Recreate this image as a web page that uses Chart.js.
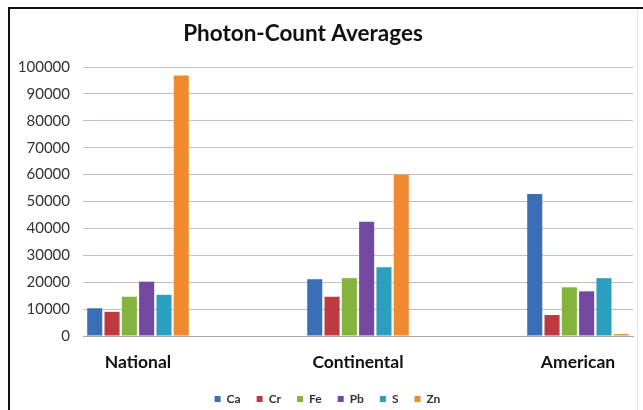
<!DOCTYPE html>
<html>
<head>
<meta charset="utf-8">
<script src="https://cdn.jsdelivr.net/npm/chart.js@4.4.0/dist/chart.umd.min.js"></script>
<style>
  html, body { margin: 0; padding: 0; background: #fff; }
  #wrap { width: 643px; height: 410px; }
</style>
</head>
<body>
<div id="wrap"><canvas id="photonChart" width="643" height="410"></canvas></div>
<script>
// categories and series
const categories = ['National', 'Continental', 'American'];
const elements = ['Ca', 'Cr', 'Fe', 'Pb', 'S', 'Zn'];
const caValues = [10300, 21100, 52800];
const crValues = [9000, 14600, 7800];
const feValues = [14600, 21500, 18100];
const pbValues = [20200, 42500, 16600];
const sValues = [15300, 25600, 21500];
const znValues = [96800, 59900, 700];
const yTicks = [0, 10000, 20000, 30000, 40000, 50000, 60000, 70000, 80000, 90000, 100000];

const seriesValues = [caValues, crValues, feValues, pbValues, sValues, znValues];
const colors = ['#3a6fb8', '#bf3a3f', '#84b33e', '#7248a0', '#2b9fc0', '#ef8a2e'];

const FONT = 'Lato, "Liberation Sans", sans-serif';

// the black frame round the picture
const framePlugin = {
  id: 'frame',
  afterLayout(chart) {
    // title sits a little left of centre, legend a little right and higher, as in the original
    chart.titleBlock.left -= 27;
    chart.legend.left += 11;
    chart.legend.right += 11;
    chart.legend.top -= 12;
  },
  afterDraw(chart) {
    const c = chart.ctx;
    c.save();
    c.strokeStyle = '#e2e2e2';
    c.lineWidth = 1;
    c.beginPath();
    c.moveTo(637.5, 10);
    c.lineTo(637.5, 410);
    c.stroke();
    c.strokeStyle = '#111';
    c.lineWidth = 2;
    c.beginPath();
    c.moveTo(9, 410);
    c.lineTo(9, 8);
    c.lineTo(643, 8);
    c.stroke();
    c.restore();
  }
};

const datasets = elements.map((name, i) => ({
  label: name,
  data: seriesValues[i].map((v, j) => ({ x: j, y: v })),
  backgroundColor: colors[i],
  borderWidth: 0,
  categoryPercentage: 0.472,
  barPercentage: 0.87
}));

new Chart(document.getElementById('photonChart'), {
  type: 'bar',
  data: { datasets: datasets },
  plugins: [framePlugin],
  options: {
    responsive: false,
    animation: false,
    layout: { padding: { left: 0, right: 10, top: 12, bottom: 0 } },
    plugins: {
      title: {
        display: true,
        text: 'Photon-Count Averages',
        color: '#111',
        font: { family: FONT, size: 22.5, weight: 'bold' },
        padding: { top: 8, bottom: 20 }
      },
      legend: {
        position: 'bottom',
        maxHeight: 21,
        labels: {
          boxWidth: 6,
          boxHeight: 6,
          padding: 16,
          color: '#333',
          font: { family: FONT, size: 12, weight: 'bold' }
        }
      },
      tooltip: { enabled: false }
    },
    scales: {
      x: {
        type: 'linear',
        offset: false,
        min: -0.25,
        max: 2.25,
        grid: { display: false, drawTicks: false },
        border: { display: true, color: '#a8a8a8', width: 1 },
        afterBuildTicks(scale) {
          scale.ticks = categories.map((c, i) => ({ value: i }));
        },
        ticks: {
          padding: 16,
          color: '#111',
          font: { family: FONT, size: 17.5, weight: 'bold' },
          callback: (v) => categories[v]
        }
      },
      y: {
        min: 0,
        max: 100000,
        afterFit(scale) { scale.width = 83; },
        afterBuildTicks(scale) {
          scale.ticks = yTicks.map(v => ({ value: v }));
        },
        grid: { color: '#c4bdb9', drawTicks: false },
        border: { display: false },
        ticks: {
          padding: 13,
          color: '#333',
          font: { family: FONT, size: 15 },
          callback: (v) => String(v)
        }
      }
    }
  }
});
</script>
</body>
</html>
